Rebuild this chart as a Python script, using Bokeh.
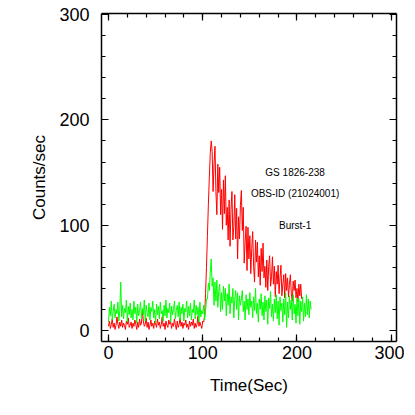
from bokeh.plotting import figure
from bokeh.models import LinearAxis, Range1d, FixedTicker
from bokeh.embed import file_html
from bokeh.resources import INLINE
from bokeh.core.properties import value

# Red light curve (counts/sec), 1 s bins starting at t=0
red_counts = [
    4, 9, 2, 6, 11, 3, 7, 1, 5, 13, 6, 2, 8, 4, 10, 3, 7, 5, 1, 9,
    6, 12, 3, 5, 8, 2, 7, 4, 10, 6, 1, 8, 3, 11, 5, 7, 20, 9, 4, 6,
    12, 3, 8, 1, 5, 10, 4, 7, 2, 9, 6, 3, 11, 5, 8, 2, 6, 13, 4, 7,
    1, 9, 5, 3, 10, 6, 8, 2, 7, 4, 11, 5, 1, 9, 3, 6, 12, 4, 8, 2,
    7, 5, 10, 3, 6, 1, 9, 4, 8, 5, 11, 2, 7, 3, 6, 14, 4, 8, 5, 2, 9,
    8, 14, 35, 60, 90, 120, 145, 168, 180,
    170, 132, 158, 175, 132, 110, 158, 131, 155, 110, 134, 96, 143, 111, 147, 100, 117, 86, 124, 80,
    115, 132, 86, 99, 129, 87, 116, 68, 108, 87, 119, 133, 95, 117, 64, 84, 99, 57, 98, 68,
    90, 54, 78, 94, 61, 46, 86, 65, 84, 51, 71, 43, 78, 56, 83, 50, 61, 41, 67, 38,
    61, 71, 42, 51, 70, 44, 61, 32, 56, 44, 62, 35, 50, 62, 33, 44, 53, 31, 54, 38,
    50, 32, 44, 53, 35, 28, 47, 38, 48, 31, 40, 27, 44, 33, 44, 30,
]

# Green light curve (counts/sec), 1 s bins starting at t=0
green_counts = [
    8, 22, 14, 28, 10, 18, 25, 12, 20, 16, 27, 9, 19, 46, 13, 24, 11, 21, 17, 29,
    8, 23, 15, 26, 12, 20, 10, 28, 16, 22, 7, 25, 14, 19, 27, 11, 21, 15, 29, 9,
    24, 17, 13, 26, 10, 22, 18, 28, 12, 20, 7, 25, 15, 23, 11, 27, 16, 19, 9, 24,
    14, 29, 12, 21, 17, 26, 8, 23, 15, 20, 28, 11, 19, 24, 13, 27, 10, 22, 16, 25,
    9, 21, 18, 28, 12, 23, 14, 26, 10, 20, 17, 29, 11, 24, 15, 22, 8, 27, 13, 19, 16, 24, 10,
    18, 30, 30, 45, 38, 55, 68, 42, 50, 24, 46, 28, 48, 22, 38, 44, 18, 36, 20, 42,
    28, 40, 14, 35, 24, 44, 16, 32, 26, 40, 12, 30, 38, 20, 36, 10, 33, 24, 30, 38,
    18, 28, 10, 34, 20, 30, 15, 36, 22, 28, 12, 32, 19, 40, 16, 26, 8, 30, 20, 35,
    14, 27, 10, 33, 18, 29, 6, 31, 21, 37, 13, 25, 9, 30, 17, 34, 11, 28, 5, 32,
    19, 26, 8, 30, 15, 36, 3, 27, 12, 33, 20, 29, 10, 34, 16, 25, 7, 31, 14, 30,
    6, 28, 18, 32, 9, 26, 13, 34, 15, 30, 12, 28, 20,
]

time_red = list(range(len(red_counts)))
time_green = list(range(len(green_counts)))

x_ticks = [0, 100, 200, 300]
y_ticks = [0, 100, 200, 300]

label_text = ["GS 1826-238", "OBS-ID (21024001)", "Burst-1"]
label_x = [198, 198, 198]
label_y = [150, 130, 100]

FONT = "Liberation Sans"

p = figure(
    frame_width=295, frame_height=328,
    x_range=Range1d(-7.4, 305.6), y_range=Range1d(-10.4, 301),
    output_backend="svg", toolbar_location=None,
    min_border_left=101, min_border_right=8, min_border_top=13, min_border_bottom=60,
    x_axis_label="Time(Sec)", y_axis_label="Counts/sec",
)
p.grid.visible = False
p.outline_line_color = None
p.background_fill_color = "white"
p.border_fill_color = "white"

bottom = p.below[0]
left = p.left[0]

p.line(time_red, red_counts, line_color="#ff0000", line_width=1)
p.line(time_green, green_counts, line_color="#00ff00", line_width=1)

p.text(x=label_x, y=label_y, text=label_text, text_font=value(FONT),
       text_font_size="10px", text_align="center", text_baseline="middle",
       text_color="black")

xt = FixedTicker(ticks=x_ticks, minor_ticks=list(range(0, 301, 20)))
yt = FixedTicker(ticks=y_ticks, minor_ticks=list(range(0, 301, 20)))

top = LinearAxis(ticker=xt)
right = LinearAxis(ticker=yt)
p.add_layout(top, "above")
p.add_layout(right, "right")
bottom.ticker = xt
left.ticker = yt

for ax in [bottom, left, top, right]:
    ax.axis_line_width = 1.5
    ax.axis_line_color = "black"
    ax.major_tick_in = 7
    ax.major_tick_out = 0
    ax.minor_tick_in = 4
    ax.minor_tick_out = 0
    ax.major_tick_line_width = 1.2
    ax.minor_tick_line_width = 1.2
    ax.major_tick_line_color = "black"
    ax.minor_tick_line_color = "black"
    ax.major_label_text_font = FONT
    ax.major_label_text_font_size = "18px"
    ax.major_label_text_color = "black"
    ax.axis_label_text_font = FONT
    ax.axis_label_text_font_style = "normal"
    ax.axis_label_text_font_size = "17px"
    ax.axis_label_text_color = "black"

for ax in [top, right]:
    ax.major_label_text_font_size = "0px"
    ax.major_label_standoff = 0
    ax.major_label_text_alpha = 0

bottom.major_label_standoff = 4
left.major_label_standoff = 12
bottom.axis_label_standoff = 14
left.axis_label_standoff = 7

open("out.html", "w").write(file_html(p, INLINE))
